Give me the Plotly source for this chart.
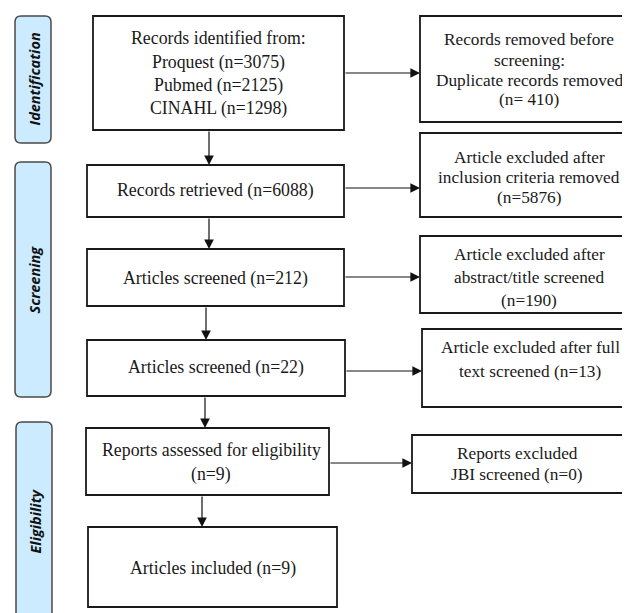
import plotly.graph_objects as go

# ---- data (texts of the flow diagram) ----
phase_labels = ["Identification", "Screening", "Eligibility"]
main_labels = [
    ["Records identified from:", "Proquest (n=3075)", "Pubmed (n=2125)", "CINAHL (n=1298)"],
    ["Records retrieved (n=6088)"],
    ["Articles screened (n=212)"],
    ["Articles screened (n=22)"],
    ["Reports assessed for eligibility", "(n=9)"],
    ["Articles included (n=9)"],
]
excluded_labels = [
    ["Records removed before", "screening:", "Duplicate records removed", "(n= 410)"],
    ["Article excluded after", "inclusion criteria removed", "(n=5876)"],
    ["Article excluded after", "abstract/title screened", "(n=190)"],
    ["Article excluded after full", "text screened (n=13)"],
    ["Reports excluded", "JBI screened (n=0)"],
]

# ---- layout geometry (pixels in the page) ----
W, H = 630, 613
OFF = 8  # default body margin of the html page
phase_boxes = [(15, 51, 16, 143), (15, 51, 162, 397), (16, 52, 422, 645)]
phase_centers = [79, 280, 521]
main_boxes = [(93, 344, 16, 130), (87, 344, 165, 217), (87, 344, 249, 306),
              (87, 345, 340, 396), (86, 329, 428, 495), (88, 337, 527, 607)]
main_text = [(218, [38, 62, 85, 108]), (215, [190]), (215, [278]), (216, [367]),
             (211, [450, 474]), (213, [568])]
side_boxes = [(420, 645, 16, 122), (420, 645, 133, 217), (420, 645, 236, 313),
              (422, 645, 329, 407), (412, 645, 435, 493)]
side_text = [(529, [39, 60, 80, 99]), (529, [157, 177, 197]), (529, [254, 277, 300]),
             (530, [347, 371]), (517, [453, 474])]
down_arrows = [(209, 130, 165), (209, 217, 249), (206, 306, 340), (205, 396, 428), (202, 495, 527)]
right_arrows = [(73, 344, 420), (188, 344, 420), (277, 344, 420), (371, 345, 422), (463, 329, 412)]

serif = dict(family="Liberation Serif, Times New Roman, serif", size=17.8, color="#1a1a1a")
serif_side = dict(family="Liberation Serif, Times New Roman, serif", size=17.3, color="#1a1a1a")

fig = go.Figure()
shapes = []
annotations = []


def rounded(x0, x1, y0, y1, r=6):
    return (f"M{x0+r},{y0} L{x1-r},{y0} Q{x1},{y0} {x1},{y0+r} L{x1},{y1-r} "
            f"Q{x1},{y1} {x1-r},{y1} L{x0+r},{y1} Q{x0},{y1} {x0},{y1-r} "
            f"L{x0},{y0+r} Q{x0},{y0} {x0+r},{y0} Z")


for (x0, x1, y0, y1), yc, lab in zip(phase_boxes, phase_centers, phase_labels):
    shapes.append(dict(type="path", path=rounded(x0, x1, y0, y1), xref="x", yref="y",
                       fillcolor="#CCEBFF", line=dict(color="#4a4a4a", width=1.5)))
    annotations.append(dict(x=(x0 + x1) / 2 + 0.5, y=yc, xref="x", yref="y", text=f"<i><b>{lab}</b></i>",
                            showarrow=False, textangle=-90,
                            font=dict(family="Open Sans, sans-serif", size=14.5, color="#111")))

for (x0, x1, y0, y1) in main_boxes + side_boxes:
    shapes.append(dict(type="rect", x0=x0, x1=x1, y0=y0, y1=y1, xref="x", yref="y",
                       line=dict(color="#1a1a1a", width=1.8), fillcolor="rgba(0,0,0,0)"))

for (xc, ys), lines in zip(main_text, main_labels):
    for yl, t in zip(ys, lines):
        annotations.append(dict(x=xc, y=yl, xref="x", yref="y", text=t, showarrow=False,
                                font=serif, xanchor="center", yanchor="middle"))
for (xc, ys), lines in zip(side_text, excluded_labels):
    for yl, t in zip(ys, lines):
        annotations.append(dict(x=xc, y=yl, xref="x", yref="y", text=t, showarrow=False,
                                font=serif_side, xanchor="center", yanchor="middle"))

for (x, ya, yb) in down_arrows:
    annotations.append(dict(x=x, y=yb, ax=x, ay=ya, xref="x", yref="y", axref="x", ayref="y",
                            text="", showarrow=True, arrowhead=2, arrowsize=1.6, arrowwidth=1.2,
                            arrowcolor="#111", standoff=0, startstandoff=0))
for (y, xa, xb) in right_arrows:
    annotations.append(dict(x=xb, y=y, ax=xa, ay=y, xref="x", yref="y", axref="x", ayref="y",
                            text="", showarrow=True, arrowhead=2, arrowsize=1.6, arrowwidth=1.2,
                            arrowcolor="#111", standoff=0, startstandoff=0))

fig.update_layout(
    width=W, height=H, margin=dict(l=0, r=0, t=0, b=0),
    paper_bgcolor="white", plot_bgcolor="white",
    xaxis=dict(range=[OFF, W + OFF], visible=False, fixedrange=True),
    yaxis=dict(range=[H + OFF, OFF], visible=False, fixedrange=True),
    shapes=shapes, annotations=annotations, showlegend=False,
)
fig.write_html("out.html")
